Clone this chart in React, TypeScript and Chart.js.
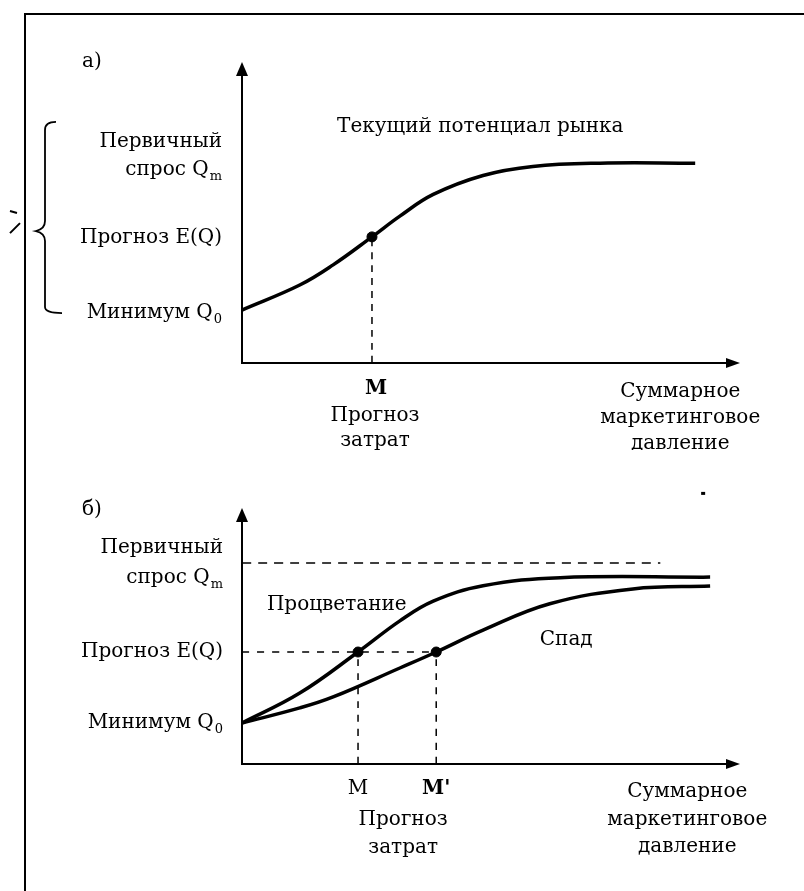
import React, { useEffect, useRef } from "react";
import { Chart, registerables } from "chart.js";
Chart.register(...registerables);

const FONT = '"DejaVu Serif", "Liberation Serif", serif';

// ---------- Panel а ----------
const curveA_x = [0, 11.6, 18.3, 26.1, 31.7, 38.4, 48.4, 58.4, 71.9, 91.0];
const curveA_y = [17.6, 25.9, 32.6, 41.9, 48.8, 56.0, 62.3, 65.3, 66.4, 66.4];
const pointA_x = [26.1];
const pointA_y = [41.9];
const yLabelsA = ["Первичный|спрос Q_m", "Прогноз E(Q)", "Минимум Q_0"];
const yLabelValuesA = [68.8, 41.5, 16.6];
const xTicksA = ["M"];
const xTickValuesA = [26.1];
const xCaption = "Прогноз|затрат";
const xTitle = "Суммарное|маркетинговое|давление";
const titleA = "Текущий потенциал рынка";
const titleA_pos = [19.1, 78.4];

// ---------- Panel б ----------
const prosper_x = [0, 11.6, 23.3, 31.7, 38.4, 48.4, 63.9, 94.0];
const prosper_y = [16.0, 27.7, 43.75, 55.9, 63.6, 69.6, 72.8, 73.0];
const decline_x = [0, 11.6, 18.3, 31.7, 39.0, 48.4, 61.8, 78.5, 94.0];
const decline_y = [16.0, 21.9, 26.2, 37.5, 43.75, 52.3, 62.6, 68.4, 69.5];
const pointsB_x = [23.3, 39.0];
const pointsB_y = [43.75, 43.75];
const levelQmB = 78.5;
const levelQmB_end = 84;
const yLabelsB = ["Первичный|спрос Q_m", "Прогноз E(Q)", "Минимум Q_0"];
const yLabelValuesB = [78.5, 43.75, 16.2];
const xTicksB = ["M", "M'"];
const xTickValuesB = [23.3, 39.0];
const curveNamesB = ["Процветание", "Спад"];
const curveNamePosB = [[5, 62.1], [59.8, 48.4]];

const zip = (xs: number[], ys: number[]) => xs.map((x, i) => ({ x, y: ys[i] }));

function drawLine(ctx: CanvasRenderingContext2D, line: string, x: number, y: number, align: string, bold = false) {
  const [main, sub] = line.split("_");
  const f = (bold ? "bold " : "") + "20px " + FONT;
  const fs = "13px " + FONT;
  ctx.font = f;
  const w1 = ctx.measureText(main).width;
  let w2 = 0;
  if (sub) {
    ctx.font = fs;
    w2 = ctx.measureText(sub).width + 1;
  }
  const w = w1 + w2;
  const sx = align === "left" ? x : align === "right" ? x - w : x - w / 2;
  ctx.textAlign = "left";
  ctx.textBaseline = "middle";
  ctx.fillStyle = "#000";
  ctx.font = f;
  ctx.fillText(main, sx, y);
  if (sub) {
    ctx.font = fs;
    ctx.fillText(sub, sx + w1 + 1, y + 7);
  }
}

function drawBlock(ctx: CanvasRenderingContext2D, text: string, x: number, y0: number, gap: number, align: string) {
  text.split("|").forEach((l, i) => drawLine(ctx, l, x, y0 + i * gap, align));
}

function axesAndArrows(ctx: CanvasRenderingContext2D, a: any) {
  ctx.strokeStyle = "#000";
  ctx.fillStyle = "#000";
  ctx.lineWidth = 2;
  ctx.beginPath();
  ctx.moveTo(a.left, a.top + 10);
  ctx.lineTo(a.left, a.bottom);
  ctx.lineTo(a.right - 10, a.bottom);
  ctx.stroke();
  ctx.beginPath();
  ctx.moveTo(a.left, a.top);
  ctx.lineTo(a.left - 6, a.top + 14);
  ctx.lineTo(a.left + 6, a.top + 14);
  ctx.closePath();
  ctx.fill();
  ctx.beginPath();
  ctx.moveTo(a.right, a.bottom);
  ctx.lineTo(a.right - 14, a.bottom - 5);
  ctx.lineTo(a.right - 14, a.bottom + 5);
  ctx.closePath();
  ctx.fill();
}

const pluginA = {
  id: "panelA",
  beforeDatasetsDraw(chart: any) {
    const { ctx, chartArea: a } = chart;
    ctx.save();
    axesAndArrows(ctx, a);
    ctx.restore();
  },
  afterDatasetsDraw(chart: any) {
    const { ctx, chartArea: a, scales } = chart;
    const X = (v: number) => scales.x.getPixelForValue(v);
    const Y = (v: number) => scales.y.getPixelForValue(v);
    ctx.save();
    drawLine(ctx, "а)", a.left - 160, a.top, "left");
    yLabelsA.forEach((t, i) => {
      const lines = t.split("|");
      const y0 = Y(yLabelValuesA[i]) - ((lines.length - 1) * 28) / 2;
      lines.forEach((l, j) => drawLine(ctx, l, a.left - 20, y0 + j * 28, "right"));
    });
    drawLine(ctx, titleA, X(titleA_pos[0]), Y(titleA_pos[1]), "left");
    xTicksA.forEach((t, i) => drawLine(ctx, t, X(xTickValuesA[i]) + 4, a.bottom + 26, "center", true));
    drawBlock(ctx, xCaption, X(xTickValuesA[0]) + 3, a.bottom + 53, 25, "center");
    drawBlock(ctx, xTitle, X(88), a.bottom + 29, 26, "center");
    // brace
    const top = Y(yLabelValuesA[0]) - 34;
    const tip = Y(yLabelValuesA[1]) - 7;
    const bot = Y(yLabelValuesA[2]);
    ctx.strokeStyle = "#000";
    ctx.lineWidth = 1.8;
    ctx.beginPath();
    ctx.moveTo(56, top);
    ctx.quadraticCurveTo(45, top, 45, top + 8);
    ctx.lineTo(45, tip - 10);
    ctx.quadraticCurveTo(45, tip - 2, 36, tip);
    ctx.quadraticCurveTo(45, tip + 2, 45, tip + 10);
    ctx.lineTo(45, bot - 6);
    ctx.quadraticCurveTo(45, bot, 62, bot);
    ctx.stroke();
    // stray pen marks
    ctx.lineWidth = 2;
    ctx.beginPath();
    ctx.moveTo(10, tip - 20);
    ctx.lineTo(17, tip - 18);
    ctx.moveTo(10, tip + 2);
    ctx.lineTo(20, tip - 8);
    ctx.stroke();
    ctx.restore();
  },
};

const pluginB = {
  id: "panelB",
  beforeDatasetsDraw(chart: any) {
    const { ctx, chartArea: a } = chart;
    ctx.save();
    axesAndArrows(ctx, a);
    ctx.restore();
  },
  afterDatasetsDraw(chart: any) {
    const { ctx, chartArea: a, scales } = chart;
    const X = (v: number) => scales.x.getPixelForValue(v);
    const Y = (v: number) => scales.y.getPixelForValue(v);
    ctx.save();
    drawLine(ctx, "б)", a.left - 160, a.top + 2, "left");
    yLabelsB.forEach((t, i) => {
      const lines = t.split("|");
      const y0 = Y(yLabelValuesB[i]) - ((lines.length - 1) * 30) / 2;
      lines.forEach((l, j) => drawLine(ctx, l, a.left - 19, y0 + j * 30, "right"));
    });
    curveNamesB.forEach((t, i) => drawLine(ctx, t, X(curveNamePosB[i][0]), Y(curveNamePosB[i][1]), "left"));
    xTicksB.forEach((t, i) => drawLine(ctx, t, X(xTickValuesB[i]), a.bottom + 25, "center", i === 1));
    const mid = (xTickValuesB[0] + xTickValuesB[1]) / 2;
    drawBlock(ctx, xCaption, X(mid) + 6, a.bottom + 56, 28, "center");
    drawBlock(ctx, xTitle, X(89.4), a.bottom + 28, 27.5, "center");
    ctx.fillStyle = "#000";
    ctx.fillRect(X(92.6) - 2, Y(105.9) - 1, 4, 3);
    ctx.restore();
  },
};

const lineDs = (data: any[], width: number, dash: number[] = []) => ({
  data,
  showLine: true,
  borderColor: "#000",
  borderWidth: width,
  borderDash: dash,
  pointRadius: 0,
  tension: 0.4,
  clip: false,
});

const dotDs = (data: any[]) => ({
  data,
  showLine: false,
  pointRadius: 5,
  pointBackgroundColor: "#000",
  pointBorderColor: "#000",
  clip: false,
});

function baseOptions(padding: any) {
  return {
    animation: false,
    responsive: false,
    devicePixelRatio: 1,
    events: [],
    layout: { padding },
    plugins: { legend: { display: false }, tooltip: { enabled: false } },
    scales: {
      x: { type: "linear", min: 0, max: 100, display: false },
      y: { type: "linear", min: 0, max: 100, display: false },
    },
  };
}

function PanelA() {
  const ref = useRef<HTMLCanvasElement>(null);
  useEffect(() => {
    const chart = new Chart(ref.current as any, {
      type: "scatter",
      data: {
        datasets: [
          lineDs([{ x: pointA_x[0], y: 0 }, { x: pointA_x[0], y: pointA_y[0] }], 1.5, [7, 6]),
          lineDs(zip(curveA_x, curveA_y), 3.5),
          dotDs(zip(pointA_x, pointA_y)),
        ] as any,
      },
      options: baseOptions({ left: 242, right: 64, top: 62, bottom: 87 }) as any,
      plugins: [pluginA],
    });
    return () => chart.destroy();
  }, []);
  return <canvas ref={ref} width={804} height={450} style={{ position: "absolute", left: 0, top: 0, width: 804, height: 450 }} />;
}

function PanelB() {
  const ref = useRef<HTMLCanvasElement>(null);
  useEffect(() => {
    const chart = new Chart(ref.current as any, {
      type: "scatter",
      data: {
        datasets: [
          lineDs([{ x: 0, y: levelQmB }, { x: levelQmB_end, y: levelQmB }], 1.5, [9, 7]),
          lineDs([{ x: 0, y: pointsB_y[0] }, { x: pointsB_x[1], y: pointsB_y[1] }], 1.5, [7, 8]),
          lineDs([{ x: pointsB_x[0], y: 0 }, { x: pointsB_x[0], y: pointsB_y[0] }], 1.5, [7, 7]),
          lineDs([{ x: pointsB_x[1], y: 0 }, { x: pointsB_x[1], y: pointsB_y[1] }], 1.5, [7, 7]),
          lineDs(zip(prosper_x, prosper_y), 3.5),
          lineDs(zip(decline_x, decline_y), 3.5),
          dotDs(zip(pointsB_x, pointsB_y)),
        ] as any,
      },
      options: baseOptions({ left: 242, right: 64, top: 58, bottom: 127 }) as any,
      plugins: [pluginB],
    });
    return () => chart.destroy();
  }, []);
  return <canvas ref={ref} width={804} height={441} style={{ position: "absolute", left: 0, top: 450, width: 804, height: 441 }} />;
}

export default function App() {
  return (
    <div style={{ position: "absolute", left: 0, top: 0, width: 804, height: 891, background: "#fff", overflow: "hidden" }}>
      <PanelA />
      <PanelB />
      <div
        style={{
          position: "absolute",
          left: 24,
          top: 13,
          width: 800,
          height: 900,
          borderTop: "2px solid #000",
          borderLeft: "2px solid #000",
          pointerEvents: "none",
        }}
      />
    </div>
  );
}
